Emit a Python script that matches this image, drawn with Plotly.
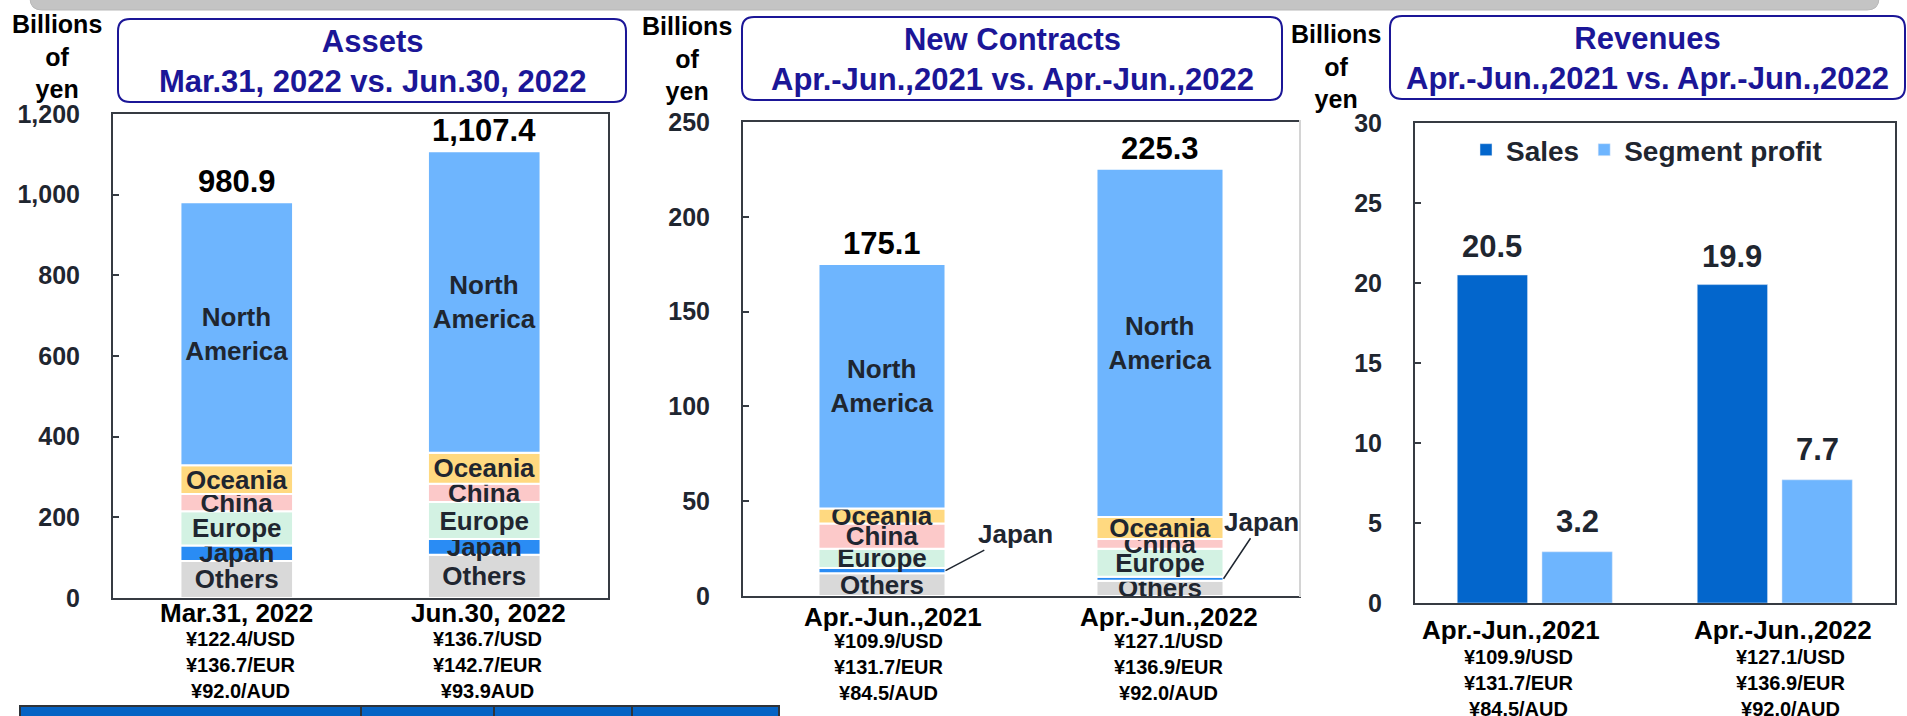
import numpy as np
import plotly.graph_objects as go

W, H = 1907, 716
FONT = "Arial, Liberation Sans, Helvetica, sans-serif"
NAVY = "#1b1697"
INK = "#1f2630"
AXIS = "#363b42"

# ---- data -------------------------------------------------------------
regions = ["Others", "Japan", "Europe", "China", "Oceania", "North America"]
region_text = ["Others", "Japan", "Europe", "China", "Oceania", "North<br>America"]
region_colors = ["#d9d9d9", "#2a8cf4", "#d3f2e3", "#fcc9c9", "#ffd980", "#6eb5fe"]

asset_dates = ["Mar.31, 2022", "Jun.30, 2022"]
asset_rates = [["¥122.4/USD", "¥136.7/EUR", "¥92.0/AUD"],
               ["¥136.7/USD", "¥142.7/EUR", "¥93.9AUD"]]
assets_others = [92.0, 107.0]
assets_japan = [38.0, 39.0]
assets_europe = [85.0, 92.0]
assets_china = [43.0, 45.0]
assets_oceania = [71.0, 77.0]
assets_north_america = [651.9, 747.4]

quarters = ["Apr.-Jun.,2021", "Apr.-Jun.,2022"]
quarter_rates = [["¥109.9/USD", "¥131.7/EUR", "¥84.5/AUD"],
                 ["¥127.1/USD", "¥136.9/EUR", "¥92.0/AUD"]]
contracts_others = [12.0, 8.0]
contracts_japan = [2.8, 2.2]
contracts_europe = [10.1, 14.7]
contracts_china = [13.3, 5.1]
contracts_oceania = [8.0, 11.7]
contracts_north_america = [128.9, 183.6]

sales = [20.5, 19.9]
segment_profit = [3.2, 7.7]


def px_x(p):
    return p / W


def px_y(p):
    return 1 - p / H


def bold(size, color=INK):
    return dict(family=FONT, size=size, color=color, weight="bold")


def rounded_path(x0, y0, x1, y1, r):
    # pixel box -> paper path with rounded corners
    X = lambda v: f"{px_x(v):.5f}"
    Y = lambda v: f"{px_y(v):.5f}"
    return (f"M{X(x0 + r)},{Y(y0)} L{X(x1 - r)},{Y(y0)} Q{X(x1)},{Y(y0)} {X(x1)},{Y(y0 + r)} "
            f"L{X(x1)},{Y(y1 - r)} Q{X(x1)},{Y(y1)} {X(x1 - r)},{Y(y1)} "
            f"L{X(x0 + r)},{Y(y1)} Q{X(x0)},{Y(y1)} {X(x0)},{Y(y1 - r)} "
            f"L{X(x0)},{Y(y0 + r)} Q{X(x0)},{Y(y0)} {X(x0 + r)},{Y(y0)} Z")


def paper_note(cx, cy, text, font):
    return dict(x=px_x(cx), y=px_y(cy), xref="paper", yref="paper", text=text,
                showarrow=False, xanchor="center", yanchor="middle", font=font)


fig = go.Figure()
annotations = []


def stacked(cats, series, xa, ya, width, hide_japan=False):
    base = np.zeros(len(cats))
    for name, txt, color, vals in zip(regions, region_text, region_colors, series):
        vals = np.array(vals)
        show = not (hide_japan and name == "Japan")
        fig.add_bar(x=cats, y=vals, base=base.copy(), width=width, name=name,
                    marker=dict(color=color, line=dict(color="white", width=2)),
                    text=[txt if show else "" for _ in cats],
                    textposition="inside", insidetextanchor="middle",
                    textangle=0, constraintext="none",
                    insidetextfont=bold(26),
                    xaxis=xa, yaxis=ya, showlegend=False, hoverinfo="skip")
        base += vals
    for c, total in zip(cats, base):
        annotations.append(dict(x=c, y=total, xref=xa, yref=ya, text=f"{total:,.1f}",
                                showarrow=False, xanchor="center", yanchor="bottom",
                                yshift=1, font=bold(31, "#000000")))
    return base


stacked(asset_dates, [assets_others, assets_japan, assets_europe, assets_china,
                      assets_oceania, assets_north_america], "x", "y", 0.455)
stacked(quarters, [contracts_others, contracts_japan, contracts_europe, contracts_china,
                   contracts_oceania, contracts_north_america], "x2", "y2", 0.457,
        hide_japan=True)

# Japan callouts on new contracts
jp_mid = [o + j / 2 for o, j in zip(contracts_others, contracts_japan)]
for i, (ax, ay) in enumerate([(70, -37), (38, -57)]):
    annotations.append(dict(x=i + 0.457 / 2, y=jp_mid[i], xref="x2", yref="y2",
                            text="Japan", showarrow=True, arrowhead=0, arrowwidth=1.5,
                            arrowcolor=INK, ax=ax, ay=ay, standoff=0,
                            font=bold(26)))

# revenues
fig.add_bar(x=quarters, y=sales, name="Sales", width=0.293, offset=-0.324,
            marker_color="#0366cc", xaxis="x3", yaxis="y3", hoverinfo="skip")
fig.add_bar(x=quarters, y=segment_profit, name="Segment profit", width=0.293, offset=0.029,
            marker_color="#6eb5fe", xaxis="x3", yaxis="y3", hoverinfo="skip")
for i, (s, p) in enumerate(zip(sales, segment_profit)):
    annotations.append(dict(x=i - 0.324 + 0.1465, y=s, xref="x3", yref="y3", text=f"{s:.1f}",
                            showarrow=False, xanchor="center", yanchor="bottom", yshift=9,
                            font=bold(31)))
    annotations.append(dict(x=i + 0.029 + 0.1465, y=p, xref="x3", yref="y3", text=f"{p:.1f}",
                            showarrow=False, xanchor="center", yanchor="bottom", yshift=11,
                            font=bold(31)))

# category labels + exchange rates
label_rows = [
    ("x", asset_dates, asset_rates, 613, 665, [0, 4], [4, 4]),
    ("x2", quarters, quarter_rates, 617, 667, [11, 9], [7, 9]),
    ("x3", quarters, quarter_rates, 630, 683, [-24, 8], [-16, 16]),
]
for xa, cats, rates, y_lab, y_rate, dx_lab, dx_rate in label_rows:
    for i, c in enumerate(cats):
        annotations.append(dict(x=c, y=px_y(y_lab), xref=xa, yref="paper", text=c,
                                showarrow=False, xanchor="center", yanchor="middle",
                                xshift=dx_lab[i], font=bold(26, "#000000")))
        annotations.append(dict(x=c, y=px_y(y_rate), xref=xa, yref="paper",
                                text="<br>".join(rates[i]), showarrow=False,
                                xanchor="center", yanchor="middle", xshift=dx_rate[i],
                                font=bold(20, "#000000")))

# unit labels and titles
for cx, cy in [(57, 56), (687, 59), (1336, 67)]:
    annotations.append(paper_note(cx, cy, "Billions<br>of<br>yen", bold(25, "#000000")))
titles = ["Assets<br>Mar.31, 2022 vs. Jun.30, 2022",
          "New Contracts<br>Apr.-Jun.,2021 vs. Apr.-Jun.,2022",
          "Revenues<br>Apr.-Jun.,2021 vs. Apr.-Jun.,2022"]
boxes = [(118, 19, 626, 102), (742, 17, 1282, 100), (1390, 16, 1905, 99)]
shapes = []
for t, (x0, y0, x1, y1) in zip(titles, boxes):
    shapes.append(dict(type="path", path=rounded_path(x0, y0, x1, y1, 12), xref="paper",
                       yref="paper", line=dict(color=NAVY, width=2), fillcolor="white",
                       layer="below"))
    annotations.append(paper_note((x0 + x1) / 2, (y0 + y1) / 2 + 1, t, bold(31, NAVY)))

# slide decorations: top banner, table header, divider
shapes.append(dict(type="path", path=rounded_path(30, -30, 1879, 10, 12), xref="paper",
                   yref="paper", fillcolor="#c4c4c4", line=dict(color="#b8b8b8", width=1)))
shapes.append(dict(type="rect", xref="paper", yref="paper", x0=px_x(20), x1=px_x(779),
                   y0=px_y(730), y1=px_y(706), fillcolor="#0563c4",
                   line=dict(color="#2f3338", width=2)))
for vx in [361, 494, 632]:
    shapes.append(dict(type="line", xref="paper", yref="paper", x0=px_x(vx), x1=px_x(vx),
                       y0=px_y(706), y1=px_y(730), line=dict(color="#2f3338", width=2)))
shapes.append(dict(type="line", xref="paper", yref="paper", x0=px_x(1300), x1=px_x(1300),
                   y0=px_y(120), y1=px_y(597), line=dict(color="#d4d4d4", width=2)))

xaxis_common = dict(type="category", range=[-0.5, 1.5], showline=True, mirror=True,
                    linecolor=AXIS, linewidth=2, showticklabels=False, ticks="",
                    showgrid=False, zeroline=False, fixedrange=True, automargin=False)
yaxis_common = dict(showline=True, mirror=True, linecolor=AXIS, linewidth=2,
                    ticks="inside", ticklen=6, tickwidth=1.5, tickcolor=AXIS,
                    showgrid=False, zeroline=False, tickfont=bold(25, INK),
                    ticklabelstandoff=26, fixedrange=True, automargin=False)

fig.update_layout(
    width=W, height=H, margin=dict(l=0, r=0, t=0, b=0, autoexpand=False),
    paper_bgcolor="white", plot_bgcolor="white",
    barmode="overlay", hovermode=False,
    font=dict(family=FONT, color=INK),
    xaxis=dict(xaxis_common, domain=[px_x(113), px_x(608)], anchor="y"),
    yaxis=dict(yaxis_common, domain=[px_y(598), px_y(114)], range=[0, 1200], dtick=200,
               tickformat=",", anchor="x"),
    xaxis2=dict(xaxis_common, domain=[px_x(743), px_x(1299)], anchor="y2"),
    yaxis2=dict(yaxis_common, domain=[px_y(596), px_y(122)], range=[0, 250], dtick=50,
                anchor="x2"),
    xaxis3=dict(xaxis_common, domain=[px_x(1415), px_x(1895)], anchor="y3"),
    yaxis3=dict(yaxis_common, domain=[px_y(603), px_y(123)], range=[0, 30], dtick=5,
                anchor="x3"),
    legend=dict(orientation="h", x=px_x(1466), y=px_y(150), xanchor="left",
                yanchor="middle", font=bold(28, INK), bgcolor="rgba(0,0,0,0)"),
    annotations=annotations,
    shapes=shapes,
)

# page body has a default 8px margin; drop it so the figure sits at the window origin
fig.write_html("out.html", config={"displayModeBar": False},
               post_script="document.body.style.margin='0';"
                           "document.body.style.overflow='hidden';")
